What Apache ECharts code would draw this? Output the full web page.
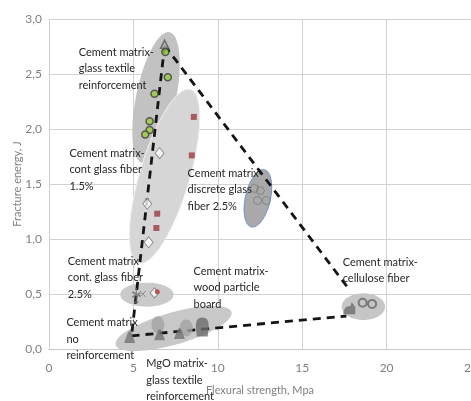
<!DOCTYPE html>
<html><head><meta charset="utf-8">
<script src="https://cdn.jsdelivr.net/npm/echarts@6/dist/echarts.min.js"></script>
<style>html,body{margin:0;padding:0;background:#fff}#c{width:471px;height:401px}</style>
</head><body><div id="c"></div>
<script>
// ---- data (x: flexural strength MPa, y: fracture energy J) ----
const glassTextile = [[6.89,2.70],[7.04,2.47],[6.25,2.32],[5.96,2.07],[5.96,1.99],[5.70,1.95]];
const contGlass15 = [[6.55,1.78],[5.82,1.32],[5.90,0.97]];
const redSquares = [[8.58,2.11],[8.46,1.76],[6.41,1.23],[6.36,1.10]];
const discreteGlass = [[12.17,1.46],[12.52,1.44],[12.35,1.35],[12.88,1.35]];
const contGlass25Star = [[5.17,0.49]];
const contGlass25X = [[5.56,0.50]];
const contGlass25Diamond = [[6.25,0.51]];
const contGlass25Red = [[6.41,0.52]];
const noReinforcement = [[4.78,0.11]];
const woodLight = [[6.45,0.22],[8.13,0.19]];
const woodDark = [[6.55,0.13],[7.73,0.14]];
const woodDarkBig = [[9.08,0.20]];
const celluloseDark = [[17.79,0.37]];
const celluloseCircles = [[18.58,0.42],[19.14,0.41]];
const topTriangle = [[6.85,2.77]];
// dashed envelope lines
const lineLeft = [[6.85,2.76],[4.89,0.12]];
const lineRight = [[6.85,2.76],[17.79,0.54]];
const lineBottom = [[4.89,0.12],[17.62,0.30]];
// group regions: major-axis end points (x1,y1,x2,y2) and minor semi-axis (x units)
const regions = [
  [7.14,2.88,5.54,1.69,1.18],
  [8.38,2.36,5.31,0.78,1.48],
  [4.22,0.494,7.38,0.494,0.71],
  [3.95,0.036,10.81,0.336,0.95],
  [12.76,1.63,11.99,1.11,0.74],
  [17.34,0.385,19.91,0.385,0.79]
];
// annotation texts and anchor (data coords)
const labelTexts = [
  'Cement matrix-\nglass textile\nreinforcement',
  'Cement matrix-\ncont glass fiber\n1.5%',
  'Cement matrix-\ndiscrete glass\nfiber 2.5%',
  'Cement matrix\ncont. glass fiber\n2.5%',
  'Cement matrix-\nwood particle\nboard',
  'Cement matrix\nno\nreinforcement',
  'MgO matrix-\nglass textile\nreinforcement',
  'Cement matrix-\ncellulose fiber'
];
const labelAnchors = [[1.76,2.70],[1.21,1.78],[8.21,1.60],[1.11,0.80],[8.56,0.71],[1.03,0.24],[5.76,-0.13],[17.40,0.79]];
const xTicks = [0,5,10,15,20,25];
const yTicks = ['0,0','0,5','1,0','1,5','2,0','2,5','3,0'];

// ---- styles ----
const regionStyles = [
  {fill:'#c2c2c2', stroke:null, lineWidth:0},
  {fill:'#d6d6d6', stroke:'#f4f4f4', lineWidth:1},
  {fill:'#cacaca', stroke:null, lineWidth:0},
  {fill:'#c8c8c8', stroke:null, lineWidth:0},
  {fill:'#a9a9a9', stroke:'#6d8fd0', lineWidth:1},
  {fill:'#c6c6c6', stroke:null, lineWidth:0}
];
const FONT = 'Lato,"Liberation Sans",sans-serif';

function renderRegion(params, api) {
  const p1 = api.coord([api.value(0), api.value(1)]);
  const p2 = api.coord([api.value(2), api.value(3)]);
  const b = api.size([api.value(4), 0])[0];
  const cx = (p1[0]+p2[0])/2, cy = (p1[1]+p2[1])/2;
  const a = Math.hypot(p2[0]-p1[0], p2[1]-p1[1]) / 2;
  const ang = Math.atan2(p2[1]-p1[1], p2[0]-p1[0]);
  const pts = [];
  for (let i = 0; i < 90; i++) {
    const t = 2*Math.PI*i/90;
    const lx = a*Math.cos(t), ly = b*Math.sin(t);
    pts.push([cx + lx*Math.cos(ang) - ly*Math.sin(ang), cy + lx*Math.sin(ang) + ly*Math.cos(ang)]);
  }
  const s = regionStyles[params.dataIndex];
  return {type:'polygon', shape:{points:pts}, style:{fill:s.fill, stroke:s.stroke, lineWidth:s.lineWidth}};
}
function renderLabel(params, api) {
  const p = api.coord([api.value(0), api.value(1)]);
  return {type:'text', x:p[0], y:p[1]-8, style:{text:labelTexts[params.dataIndex], fill:'#262626', font:'11px '+FONT, lineHeight:16.5, align:'left', verticalAlign:'top'}};
}
function dashed(data) {
  return {type:'line', data:data, symbol:'none', z:3, silent:true,
    lineStyle:{color:'#151515', width:2.8, type:[8,6]}};
}
function pts(data, symbol, size, style, z) {
  return {type:'scatter', data:data, symbol:symbol, symbolSize:size, z:z||5, itemStyle:style, silent:true};
}

const chart = echarts.init(document.getElementById('c'), null, {renderer:'canvas'});
chart.setOption({
  animation:false,
  backgroundColor:'#ffffff',
  grid:{left:49, right:0, top:19, bottom:52, containLabel:false, outerBoundsMode:'none'},
  xAxis:{type:'value', min:0, max:25, interval:5,
    name:'Flexural strength, Mpa', nameLocation:'middle', nameGap:36, nameMoveOverlap:false,
    nameTextStyle:{color:'#7f7f7f', fontSize:11, fontFamily:FONT},
    axisLine:{show:true, lineStyle:{color:'#c8c8c8'}}, axisTick:{show:false},
    axisLabel:{color:'#7f7f7f', fontSize:12, fontFamily:FONT, margin:13, formatter:v=>String(xTicks[xTicks.indexOf(v)])},
    splitLine:{show:true, lineStyle:{color:'#d2d2d2', width:1}}},
  yAxis:{type:'value', min:0, max:3, interval:0.5,
    name:'Fracture energy, J', nameLocation:'middle', nameGap:26, nameMoveOverlap:false,
    nameTextStyle:{color:'#7f7f7f', fontSize:11, fontFamily:FONT},
    axisLine:{show:true, lineStyle:{color:'#d0d0d0'}}, axisTick:{show:false},
    axisLabel:{color:'#7f7f7f', fontSize:12, fontFamily:FONT, margin:7, formatter:v=>yTicks[Math.round(v*2)]},
    splitLine:{show:true, lineStyle:{color:'#d2d2d2', width:1}}},
  series:[
    {type:'custom', renderItem:renderRegion, data:regions, encode:{x:[0,2], y:[1,3]}, z:1, silent:true},
    dashed(lineLeft), dashed(lineRight), dashed(lineBottom),
    pts(glassTextile, 'circle', 7, {color:'#9ac93f', borderColor:'#3d3d3d', borderWidth:1.5}),
    pts(topTriangle, 'triangle', 8, {color:'#c2c2c2', borderColor:'#555', borderWidth:1.5}),
    pts(contGlass15, 'diamond', [9,11], {color:'#ffffff', borderColor:'#7a7a7a', borderWidth:1}),
    pts(redSquares, 'rect', 6, {color:'#9e3b3f'}),
    pts(discreteGlass, 'circle', 8, {color:'rgba(0,0,0,0)', borderColor:'#7a7a7a', borderWidth:1}),
    pts(contGlass25Star, 'path://M5,0 L5,14 M1,4 L9,8 M1,9 L9,5 M3,14 L7,14', [8,14], {color:'rgba(0,0,0,0)', borderColor:'#6a6a6a', borderWidth:1.5}),
    pts(contGlass25X, 'path://M0,0 L6,6 M6,0 L0,6', 6, {color:'rgba(0,0,0,0)', borderColor:'#777', borderWidth:1}),
    pts(contGlass25Diamond, 'diamond', [9,10], {color:'#ffffff', borderColor:'#7a7a7a', borderWidth:1}),
    pts(contGlass25Red, 'circle', 5, {color:'#b03a3a'}),
    pts(noReinforcement, 'path://M0,10 L3,3 Q5,-1 7,3 L10,10 Z', [11,12], {color:'#737373'}),
    pts(woodLight, 'circle', [13,17], {color:'#a3a3a3'}),
    pts(woodDark, 'path://M0,10 L3,3 Q5,-1 7,3 L10,10 Z', [11,11], {color:'#737373'}, 6),
    pts(woodDarkBig, 'path://M1,18 L0,8 Q0,0 6,0 Q12,0 12,8 L11,18 Z', [13,19], {color:'#6b6b6b'}),
    pts(celluloseDark, 'path://M0,10 Q0,3 6,3 L7,0 L10,4 L10,10 Z', [12,12], {color:'#6e6e6e'}),
    pts(celluloseCircles, 'circle', 8, {color:'rgba(0,0,0,0)', borderColor:'#666', borderWidth:2}),
    {type:'custom', renderItem:renderLabel, data:labelAnchors, encode:{x:0, y:1}, z:8, silent:true, clip:false}
  ]
});
</script></body></html>
